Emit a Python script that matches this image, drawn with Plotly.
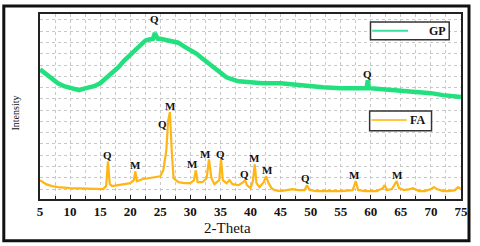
import plotly.graph_objects as go

# GP pattern (2-theta, intensity a.u.)
gp_theta = [5, 6, 7, 8, 9, 10, 11, 11.5, 12, 13, 14, 15, 16, 17, 18, 19, 20, 21, 22, 22.5, 23, 23.8, 24.0, 24.1, 24.2, 24.6,
            25, 26, 27, 28, 29, 30, 31, 32, 33, 34, 35, 36, 37, 38, 40, 42, 45, 48, 50, 52, 55, 58, 59.3, 59.5, 59.7,
            60, 62, 65, 68, 70, 72, 75]
gp_int = [131, 126, 121, 117, 114, 112, 111, 110, 111, 112, 114, 117, 122, 127, 133, 140, 146, 152, 157, 160, 161, 162, 166, 168, 166, 162,
          162, 161, 160, 158, 154, 151, 147, 142, 137, 132, 127, 123, 121, 119, 118, 117, 117, 115, 114, 113, 112, 112, 112, 120, 112,
          112, 111, 110, 109, 107, 105, 103]

# FA pattern
fa_theta = [5, 6, 7, 8, 10, 12, 14, 15.5, 16.0, 16.3, 16.6, 17, 18, 19, 20, 20.6, 20.85, 21.1, 22, 23, 24, 25, 25.5, 26.0, 26.3,
            26.6, 26.9, 27.2, 28, 29, 30, 30.6, 30.9, 31.2, 32, 32.7, 33.1, 33.5, 34, 34.8, 35.1, 35.4, 36, 36.5, 37, 38,
            38.8, 39.1, 39.4, 40.0, 40.4, 40.7, 41.0, 41.5, 42.2, 42.6, 43.0, 43.5, 44, 45, 46, 47, 48, 49, 49.4, 49.8,
            51, 53, 55, 57, 57.5, 57.9, 59, 61, 62.0, 62.3, 62.7, 63.5, 64.3, 64.7, 65.5, 66.5, 67, 68, 69, 70, 70.5, 71,
            72, 73, 74, 74.5, 75]
fa_int = [19, 15, 13, 12, 11, 10.5, 10, 10, 13, 38, 15, 13, 14, 15, 16, 19, 28, 18, 20, 21, 22, 23, 29, 49, 79,
          88, 49, 21, 17, 16, 16, 19, 29, 17, 17, 21, 40, 21, 15, 19, 40, 19, 16, 19, 15, 14,
          17, 19, 14, 11, 18, 35, 16, 12, 17, 23, 16, 11, 9, 8, 9, 10, 9, 9, 14, 9,
          8, 8, 8, 9, 18, 9, 8, 8, 11, 14, 9, 10, 18, 11, 9, 10, 11, 8, 8, 10, 12, 10,
          8, 8, 9, 12, 10]

# Peak labels
lab_theta = [24.1, 59.5, 16.3, 20.8, 26.7, 25.4, 30.4, 32.5, 35.0, 39.0, 40.7, 42.8, 49.2, 57.3, 64.4]
lab_int = [182, 126, 44, 34, 94, 76, 35, 45, 45, 25, 41, 29, 21, 24, 24]
lab_text = ["Q", "Q", "Q", "M", "M", "Q", "M", "M", "Q", "Q", "M", "M", "Q", "M", "M"]

series_names = ["GP", "FA"]
x_ticks = [5, 10, 15, 20, 25, 30, 35, 40, 45, 50, 55, 60, 65, 70, 75]

GP_COLOR = "#22E07E"
FA_COLOR = "#FFB514"
SERIF = "Liberation Serif, Times New Roman, serif"

fig = go.Figure()
fig.add_trace(go.Scatter(x=gp_theta, y=gp_int, mode="lines", name=series_names[0],
                         line=dict(color=GP_COLOR, width=4.5), showlegend=False, hoverinfo="skip"))
fig.add_trace(go.Scatter(x=fa_theta, y=fa_int, mode="lines", name=series_names[1],
                         line=dict(color=FA_COLOR, width=2.2), showlegend=False, hoverinfo="skip"))

for t, v, s in zip(lab_theta, lab_int, lab_text):
    fig.add_annotation(x=t, y=v, text=s, showarrow=False, xref="x", yref="y",
                       font=dict(family=SERIF, size=11, color="#111", weight="bold"),
                       xanchor="center", yanchor="middle")

grid = dict(gridcolor="#C8C8C8", griddash="dot", gridwidth=1)

fig.update_xaxes(range=[5, 75], tickvals=x_ticks, ticks="inside", ticklen=4, tickcolor="#222",
                 tickfont=dict(family=SERIF, size=13, color="#111", weight="bold"),
                 showline=True, linecolor="#222", linewidth=1.5, mirror=True,
                 showgrid=True, **grid,
                 minor=dict(dtick=2.5, tick0=5, ticks="inside", ticklen=3, tickcolor="#222",
                            showgrid=True, gridcolor="#C8C8C8", griddash="dot", gridwidth=1),
                 zeroline=False)
fig.update_yaxes(range=[0, 187], tick0=10, dtick=11.4, showticklabels=False, ticks="",
                 showline=True, linecolor="#222", linewidth=1.5, mirror=True,
                 showgrid=True, **grid, zeroline=False)

fig.add_annotation(x=0.445, y=-0.155, xref="paper", yref="paper", text="2-Theta", showarrow=False,
                   font=dict(family=SERIF, size=15, color="#111"), xanchor="center", yanchor="middle")
fig.add_annotation(x=-0.058, y=0.465, xref="paper", yref="paper", text="Intensity", showarrow=False,
                   textangle=-90, font=dict(family=SERIF, size=10, color="#111"),
                   xanchor="center", yanchor="middle")

# legend boxes (drawn as decorations)
legend_boxes = [
    # name, line colour, box x0,x1,y0,y1, sample line x0,x1,y, text x
    (series_names[0], "#3ADFA0", 0.785, 0.972, 0.861, 0.957, 0.789, 0.874, 0.909, 0.945),
    (series_names[1], "#FFC840", 0.783, 0.930, 0.369, 0.476, 0.787, 0.871, 0.427, 0.897),
]
for name, col, bx0, bx1, by0, by1, lx0, lx1, ly, tx in legend_boxes:
    fig.add_shape(type="rect", xref="paper", yref="paper", x0=bx0, x1=bx1, y0=by0, y1=by1,
                  line=dict(color="#333", width=1.5), fillcolor="white", layer="above")
    fig.add_shape(type="line", xref="paper", yref="paper", x0=lx0, x1=lx1, y0=ly, y1=ly,
                  line=dict(color=col, width=2), layer="above")
    fig.add_annotation(x=tx, y=ly, xref="paper", yref="paper", text=name, showarrow=False,
                       font=dict(family=SERIF, size=12, color="#111", weight="bold"),
                       xanchor="center", yanchor="middle")

# outer frame
fig.add_shape(type="rect", xref="paper", yref="paper", x0=-0.086, x1=1.019, y0=-0.225, y1=1.043,
              line=dict(color="#111", width=3), fillcolor="rgba(0,0,0,0)")

fig.update_layout(
    width=480, height=246,
    margin=dict(l=40, r=12, t=12, b=47),
    paper_bgcolor="white", plot_bgcolor="white",
    showlegend=False,
)

fig.write_html("out.html", config={"displayModeBar": False},
               post_script="document.body.style.margin='0px';document.body.style.padding='0px';")
